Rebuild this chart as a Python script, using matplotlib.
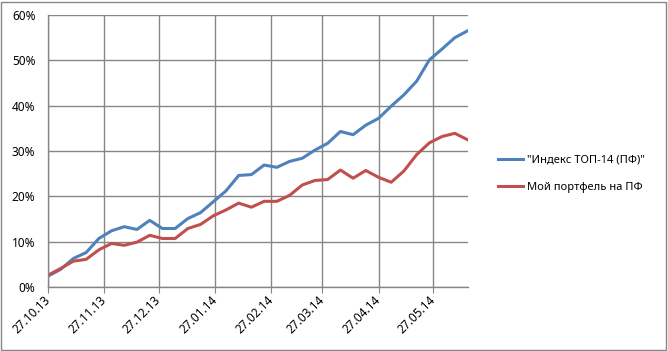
import pandas as pd
import matplotlib
matplotlib.use("Agg")
import matplotlib.pyplot as plt
import matplotlib.transforms as mtransforms
from matplotlib.patches import Rectangle

plt.rcParams['font.family'] = ['Noto Sans', 'DejaVu Sans']

# weekly points, starting 27.10.13
dates = pd.date_range('2013-10-27', periods=34, freq='7D')

index_top14 = [2.4, 3.9, 6.3, 7.6, 10.7, 12.4, 13.3, 12.7, 14.7, 12.9,
               12.9, 15.1, 16.4, 18.8, 21.2, 24.6, 24.8, 26.9, 26.4, 27.7,
               28.4, 30.2, 31.7, 34.3, 33.6, 35.7, 37.2, 39.9, 42.4, 45.4,
               50.1, 52.5, 55.0, 56.5]
my_portfolio = [2.6, 4.1, 5.7, 6.1, 8.2, 9.6, 9.2, 9.9, 11.4, 10.7,
                10.7, 12.9, 13.8, 15.7, 17.0, 18.5, 17.6, 18.9, 18.9, 20.2,
                22.5, 23.5, 23.7, 25.8, 24.0, 25.7, 24.2, 23.1, 25.6, 29.2,
                31.8, 33.2, 33.9, 32.5]

series_names = ['"Индекс ТОП-14 (ПФ)"', 'Мой портфель на ПФ']
tick_dates = ['2013-10-27', '2013-11-27', '2013-12-27', '2014-01-27',
              '2014-02-27', '2014-03-27', '2014-04-27', '2014-05-27']
tick_labels = ['27.10.13', '27.11.13', '27.12.13', '27.01.14',
               '27.02.14', '27.03.14', '27.04.14', '27.05.14']
y_ticks = [0, 10, 20, 30, 40, 50, 60]

grey = '#868686'

fig = plt.figure(figsize=(6.68, 3.51), dpi=100)
ax = fig.add_axes([48/668, 1 - 287/351, (467.5 - 48)/668, (287 - 15)/351])

ax.plot(dates, index_top14, color='#4F81BD', lw=2.2, label=series_names[0],
        solid_joinstyle='round')
ax.plot(dates, my_portfolio, color='#C0504D', lw=2.2, label=series_names[1],
        solid_joinstyle='round')

ax.set_xlim(dates[0], dates[-1])
ax.set_ylim(0, 60)

xt = pd.to_datetime(tick_dates)
ax.set_xticks(xt)
ax.set_xticklabels(tick_labels, rotation=45, ha='right', va='center',
                   rotation_mode='anchor', fontsize=8.5)
# nudge the rotated date labels like Excel places them
shift = mtransforms.ScaledTranslation(3/100, -5/100, fig.dpi_scale_trans)
for lbl in ax.get_xticklabels():
    lbl.set_transform(lbl.get_transform() + shift)
ax.set_yticks(y_ticks)
ax.set_yticklabels([f'{v}%' for v in y_ticks], fontsize=8.5)

ax.grid(True, color=grey, lw=1)
ax.set_axisbelow(True)
for s in ['top', 'right']:
    ax.spines[s].set_visible(False)
for s in ['left', 'bottom']:
    ax.spines[s].set_color(grey)
    ax.spines[s].set_linewidth(1)
ax.tick_params(axis='y', length=0, pad=9)
ax.tick_params(axis='x', length=4, color=grey, pad=4)

ax.legend(loc='center left', bbox_to_anchor=(498/668, 1 - 174/351),
          bbox_transform=fig.transFigure, frameon=False, fontsize=8,
          handlelength=2.25, handletextpad=0.35, labelspacing=1.45,
          borderpad=0, borderaxespad=0)

# outer chart border
fig.patches.append(Rectangle((1/668, 1/351), 665/668, 348/351, fill=False,
                             edgecolor=grey, lw=1, transform=fig.transFigure))

fig.savefig('out.png', dpi=100)
